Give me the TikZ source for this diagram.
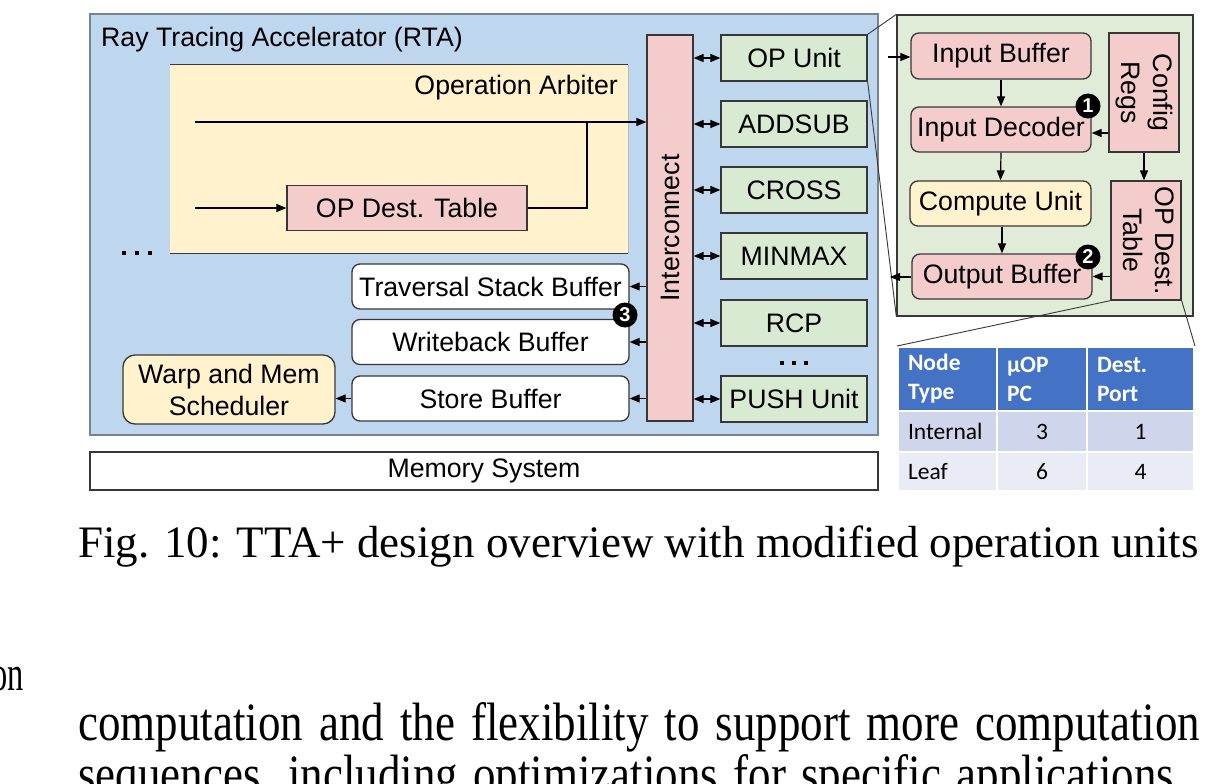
\documentclass[tikz,border=0pt]{standalone}
\usepackage{fontspec}
\setmainfont{Liberation Serif}
\newfontfamily\arialf{Liberation Sans}
\newfontfamily\calibf{Carlito}
\usetikzlibrary{arrows.meta}
\definecolor{rtablue}{RGB}{190,214,238}
\definecolor{rtaedge}{RGB}{120,130,145}
\definecolor{bordc}{RGB}{55,55,55}
\definecolor{pinkc}{RGB}{244,204,204}
\definecolor{greenc}{RGB}{217,234,211}
\definecolor{panelc}{RGB}{224,236,216}
\definecolor{yellowc}{RGB}{255,242,204}
\definecolor{hdrc}{RGB}{68,114,196}
\definecolor{rowa}{RGB}{207,213,234}
\definecolor{rowb}{RGB}{233,235,245}
\newcommand\labfont{\arialf\fontsize{26.7}{32}\selectfont}
\newcommand\tabfont{\calibf\fontsize{23.5}{29}\selectfont}
\newcommand\capfont{\fontsize{45}{52}\selectfont}
\tikzset{
 bx/.style={draw=bordc, line width=1.3pt, inner sep=0pt, font=\labfont, align=center},
 pinkb/.style={bx, fill=pinkc},
 greenb/.style={bx, fill=greenc},
 yellowb/.style={bx, fill=yellowc},
 whiteb/.style={bx, fill=white},
 rnd/.style={rounded corners=8pt},
 arr/.style={-{Triangle[length=10pt,width=8pt]}, line width=1.2pt, draw=black},
 darr/.style={{Triangle[length=10pt,width=8pt]}-{Triangle[length=10pt,width=8pt]}, line width=1.2pt, draw=black},
 ln/.style={line width=1.2pt, draw=black},
 thin/.style={line width=0.9pt, draw=bordc},
 badge/.style={circle, fill=black, text=white, inner sep=0pt, minimum size=25pt, font=\arialf\bfseries\fontsize{20}{20}\selectfont},
 cell/.style={draw=white, line width=2pt, inner xsep=10pt, inner ysep=0pt, font=\tabfont},
 hcell/.style={cell, fill=hdrc, text=white, font=\tabfont\bfseries, align=left},
 txt/.style={inner sep=0pt},
}
\begin{document}
\begin{tikzpicture}[x=1pt,y=-1pt]
\useasboundingbox (0,0) rectangle (1219,784);
\clip (0,0) rectangle (1219,784);
\fill[white] (0,0) rectangle (1219,784);

% RTA container
\node[draw=rtaedge, fill=rtablue, line width=1.3pt, minimum width=788pt, minimum height=421pt, inner sep=0] (rta) at (484,224.5) {};
\node[txt, anchor=west, font=\labfont] (rtat) at (101,40) {Ray Tracing Accelerator (RTA)};

% Operation arbiter
\node[fill=yellowc, minimum width=458pt, minimum height=188pt, inner sep=0] (arb) at (399,159) {};
\draw[line width=1.3pt, bordc] (arb.north west) -- (arb.north east);
\draw[line width=1.3pt, bordc] (arb.south west) -- (arb.south east);
\draw[line width=0.8pt, bordc!35] (arb.north east) -- (arb.south east);
\node[txt, anchor=east, font=\labfont] (arbt) at (618,88) {Operation Arbiter};
\node[pinkb, minimum width=240pt, minimum height=45pt] (odt) at (407,208) {OP Dest. Table};
\foreach \dx in {0,13,26} \fill[black] (122+\dx,251) rectangle ++(4,4);

% Interconnect
\node[pinkb, minimum width=46pt, minimum height=386pt] (ic) at (670,228) {\rotatebox{90}{Interconnect}};

% units
\node[greenb, minimum width=146pt, minimum height=46pt] (op) at (794,58) {OP Unit};
\node[greenb, minimum width=146pt, minimum height=46pt] (add) at (794,124) {ADDSUB};
\node[greenb, minimum width=146pt, minimum height=46pt] (cross) at (794,190) {CROSS};
\node[greenb, minimum width=146pt, minimum height=46pt] (mm) at (794,256) {MINMAX};
\node[greenb, minimum width=146pt, minimum height=46pt] (rcp) at (794,323) {RCP};
\node[greenb, minimum width=146pt, minimum height=46pt] (push) at (794,399) {PUSH Unit};
\foreach \dx in {0,12,24} \fill[black] (780+\dx,361) rectangle ++(4,4);

% buffers
\node[whiteb, rnd, minimum width=277pt, minimum height=45pt] (tsb) at (490.5,286.5) {Traversal Stack Buffer};
\node[whiteb, rnd, minimum width=277pt, minimum height=45pt] (wb) at (490.5,342) {Writeback Buffer};
\node[whiteb, rnd, minimum width=277pt, minimum height=45pt] (sb) at (490.5,398.5) {Store Buffer};
\node[yellowb, rounded corners=12pt, minimum width=212pt, minimum height=69pt] (sched) at (229,389.5) {Warp and Mem\\Scheduler};

% memory
\node[bx, fill=white, minimum width=788pt, minimum height=38pt] (mem) at (484,471) {Memory System};

% arbiter connectors
\coordinate (a1) at (195,122);
\coordinate (a2) at (195,208);
\coordinate (j) at (587,122);
\draw[arr] (a1) -- (ic.west |- a1);
\draw[arr] (a2) -- (odt.west);
\draw[ln] (odt.east) -| (j);

% interconnect connectors
\foreach \u in {op,add,cross,mm,rcp,push} \draw[darr] (ic.east |- \u) -- (\u.west);
\foreach \b in {tsb,wb,sb} \draw[arr] (ic.west |- \b) -- (\b.east);
\draw[arr] (sb.west) -- (sched.east |- sb.west);
\node[badge] (b3) at (625,315) {3};

% zoom panel
\node[draw=bordc, fill=panelc, line width=1.3pt, minimum width=296pt, minimum height=301pt, inner sep=0] (panel) at (1045,165.5) {};
\draw[thin] (op.north east) -- (panel.north west);
\draw[thin] (op.south east) -- (panel.south west);

\node[pinkb, rnd, minimum width=180pt, minimum height=46pt] (ib) at (1001,56) {Input Buffer};
\node[pinkb, rnd, minimum width=180pt, minimum height=45pt] (id) at (1001,129.5) {Input Decoder};
\node[yellowb, rnd, minimum width=181pt, minimum height=45pt] (cu) at (1000.5,203.5) {Compute Unit};
\node[pinkb, rnd, minimum width=180pt, minimum height=45pt] (ob) at (1002,276.5) {Output Buffer};
\node[pinkb, minimum width=70pt, minimum height=119pt] (cr) at (1144,92.5) {\rotatebox{-90}{\begin{tabular}{@{}c@{}}Config\\Regs\end{tabular}}};
\node[pinkb, minimum width=70pt, minimum height=119pt] (odt2) at (1146,240.5) {\rotatebox{-90}{\begin{tabular}{@{}c@{}}OP Dest.\\Table\end{tabular}}};

\coordinate (pin) at (888,57);
\coordinate (pout) at (890,277);
\draw[arr] (pin) -- (ib.west |- pin);
\draw[arr] (ob.west |- pout) -- (pout);
\draw[arr] (ib.south) -- (id.north);
\draw[arr] (id.south) -- (cu.north);
\draw[arr] (cu.south -| ob.north) -- (ob.north);
\draw[arr] (cr.west |- 0,133) -- (id.east |- 0,133);
\draw[arr] (cr.south) -- (cr.south |- odt2.north);
\draw[arr] (odt2.west |- ob.east) -- (ob.east);
\node[badge] (b1) at (1088,106) {1};
\node[badge] (b2) at (1088,257) {2};

% table
\node[hcell, text width=79pt, minimum height=64pt] (h1) at (947.5,379) {Node\\Type};
\node[hcell, text width=70pt, minimum height=64pt] (h2) at (1042,379) {µOP\\PC};
\node[hcell, text width=87pt, minimum height=64pt] (h3) at (1140.5,379) {Dest.\\Port};
\node[cell, fill=rowa, text width=79pt, minimum height=41pt, align=left] (c11) at (947.5,431.5) {Internal};
\node[cell, fill=rowa, text width=70pt, minimum height=41pt, align=center] (c12) at (1042,431.5) {3};
\node[cell, fill=rowa, text width=87pt, minimum height=41pt, align=center] (c13) at (1140.5,431.5) {1};
\node[cell, fill=rowb, text width=79pt, minimum height=39pt, align=left] (c21) at (947.5,471.5) {Leaf};
\node[cell, fill=rowb, text width=70pt, minimum height=39pt, align=center] (c22) at (1042,471.5) {6};
\node[cell, fill=rowb, text width=87pt, minimum height=39pt, align=center] (c23) at (1140.5,471.5) {4};
\draw[thin] (odt2.south west) -- (h1.north west);
\draw[thin] (odt2.south east) -- (h3.north east);

% caption and body text
\node[txt, anchor=base west, font=\capfont] (cap) at (78,557) {Fig. 10: TTA+ design overview with modified operation units};
\node[txt, anchor=base east, font=\capfont] (on) at (24,690) {\scalebox{0.72}[1.1]{on}};
\node[txt, anchor=base west, font=\capfont] (l1) at (78,740) {\scalebox{1}[1.2]{\makebox[1122pt][s]{computation and the flexibility to support more computation}}};
\node[txt, anchor=base west, font=\capfont] (l2) at (78,792) {\scalebox{1}[1.2]{\makebox[1107pt][s]{sequences, including optimizations for specific applications.}}};
\end{tikzpicture}
\end{document}
